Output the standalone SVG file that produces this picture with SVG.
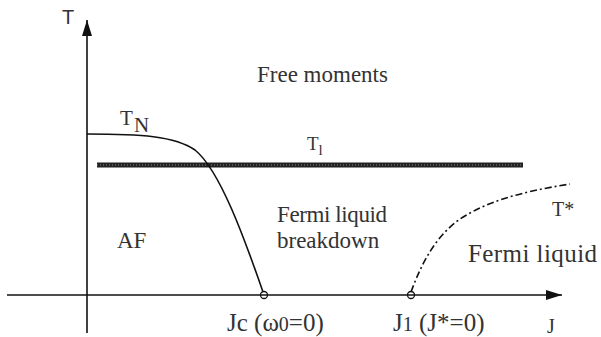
<svg xmlns="http://www.w3.org/2000/svg" width="601" height="337" viewBox="0 0 601 337">
<defs>
<style>
.lbl{font-family:"Liberation Serif","Times New Roman",serif;font-size:23px;fill:#333}
.ax{stroke:#111;stroke-width:1.6;fill:none}
.crv{stroke:#111;stroke-width:1.6;fill:none}
</style>
<marker id="ah" viewBox="0 0 16 10" refX="16" refY="5" markerWidth="16" markerHeight="10" markerUnits="userSpaceOnUse" orient="auto">
<path d="M0,0 L16,5 L0,10 Z" fill="#111"/>
</marker>
</defs>
<rect width="601" height="337" fill="#fff"/>
<g id="connectors">
<line class="ax" x1="87" y1="333" x2="87" y2="20" marker-end="url(#ah)"/>
<line class="ax" x1="7" y1="295" x2="562" y2="295" marker-end="url(#ah)"/>
<line x1="97" y1="165" x2="523" y2="165" stroke="#222" stroke-width="5"/>
<line x1="97" y1="165" x2="523" y2="165" stroke="#888" stroke-width="1" stroke-dasharray="1,2"/>
<path class="crv" d="M87,134 C140,134 175,136 195,150 C220,170 245,240 263,292"/>
<path class="crv" d="M411,292 C422,262 436,236 460,219 C488,201 520,192 570,184" stroke-dasharray="7,3,2,3"/>
<circle cx="264" cy="295" r="3.5" fill="none" stroke="#111" stroke-width="1.3"/>
<circle cx="411" cy="295" r="3.5" fill="none" stroke="#111" stroke-width="1.3"/>
</g>
<g id="axis-T"><text x="62" y="24" font-family="Liberation Sans, Arial, sans-serif" font-size="20" fill="#333">T</text></g>
<g id="axis-J"><text x="547" y="333" class="lbl" style="font-size:20px">J</text></g>
<g id="TN"><text x="120" y="125" class="lbl" style="font-size:21px">T<tspan x="134" y="132">N</tspan></text></g>
<g id="Tl"><text x="307" y="150" class="lbl" style="font-size:19px">T<tspan style="font-size:15px" y="155">l</tspan></text></g>
<g id="free"><text x="257" y="82" class="lbl">Free moments</text></g>
<g id="fermi-breakdown"><text x="277" y="222" class="lbl" textLength="110">Fermi liquid</text><text x="277" y="248" class="lbl">breakdown</text></g>
<g id="af"><text x="117" y="248" class="lbl">AF</text></g>
<g id="tstar"><text x="552" y="216" class="lbl" style="font-size:20px">T*</text></g>
<g id="fermi"><text x="468" y="262" class="lbl" style="font-size:25px" textLength="129">Fermi liquid</text></g>
<g id="jc"><text x="227" y="331" class="lbl" style="font-size:25px">Jc (ω<tspan style="font-size:20px">0</tspan>=0)</text></g>
<g id="j1"><text x="393" y="331" class="lbl" style="font-size:25px">J<tspan style="font-size:20px">1</tspan> (J*=0)</text></g>
</svg>
